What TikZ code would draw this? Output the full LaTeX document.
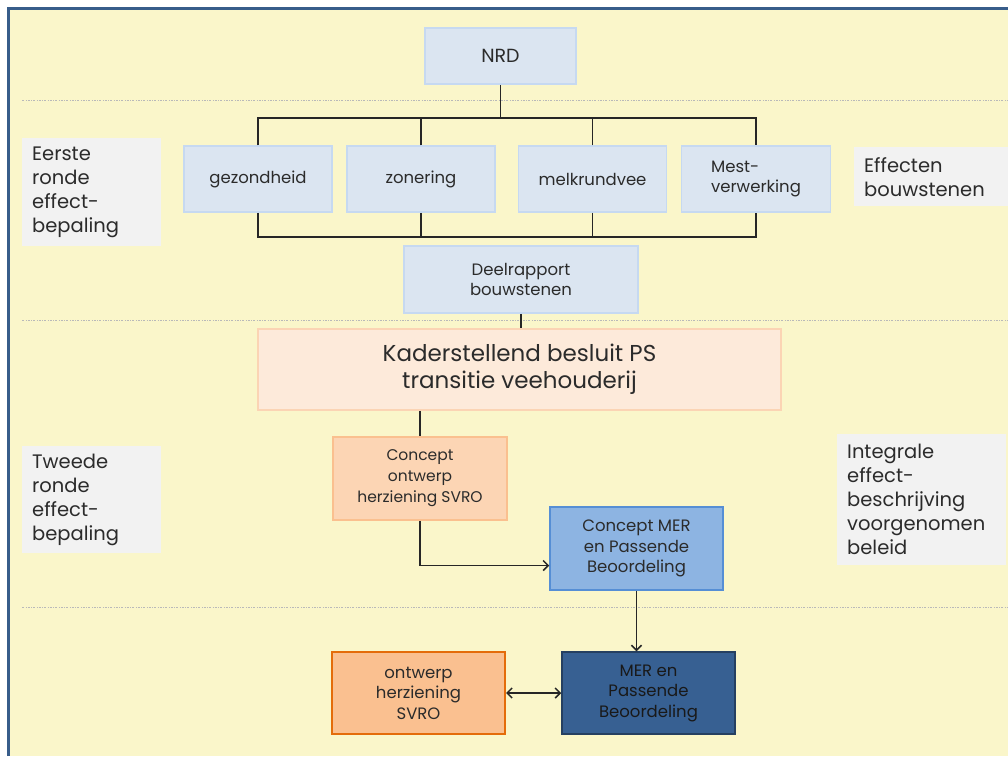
\documentclass[tikz,border=0pt]{standalone}
\usepackage{fontspec}
\setmainfont{Poppins}
\usetikzlibrary{arrows.meta,calc}
\definecolor{bgyellow}{HTML}{FAF6CA}
\definecolor{frameblue}{HTML}{385D8A}
\definecolor{lblue}{HTML}{DBE5F1}
\definecolor{lblueline}{HTML}{C6D9F1}
\definecolor{lpeach}{HTML}{FDEADA}
\definecolor{lpeachline}{HTML}{FBD4B4}
\definecolor{peach}{HTML}{FCD5B4}
\definecolor{peachline}{HTML}{FAC08F}
\definecolor{midblue}{HTML}{8DB4E2}
\definecolor{midblueline}{HTML}{558ED5}
\definecolor{orangebox}{HTML}{FAC090}
\definecolor{orangeline}{HTML}{E46C0A}
\definecolor{darkblue}{HTML}{376092}
\definecolor{darkblueline}{HTML}{254061}
\definecolor{labelgray}{HTML}{F2F2F2}
\definecolor{txt}{HTML}{2B2B2B}
\tikzset{
  box/.style={rectangle, line width=1.5pt, align=center, text=txt, inner sep=2pt,
    font=\fontsize{16.5}{20.5}\selectfont},
  bouwsteen/.style={box, fill=lblue, draw=lblueline, minimum width=148pt, minimum height=66pt},
  sidelabel/.style={rectangle, fill=labelgray, anchor=north west, align=left, text=txt,
    inner xsep=10pt, font=\fontsize{19.5}{24}\selectfont},
  sep/.style={gray!55, line width=0.8pt, dash pattern=on 2pt off 1.5pt on 0.5pt off 1.5pt},
  link/.style={line width=1.6pt, black!85},
  arr/.style={link, -{Straight Barb[length=5pt,width=10pt,line width=1.5pt]}},
  arrboth/.style={link, {Straight Barb[length=5pt,width=10pt,line width=1.5pt]}-{Straight Barb[length=5pt,width=10pt,line width=1.5pt]}}
}
\begin{document}
\begin{tikzpicture}[x=1pt,y=-1pt]
  % frame and background
  \useasboundingbox (0,0) rectangle (1008,756);
  \fill[white] (0,0) rectangle (1008,756);
  \fill[bgyellow] (9,9) rectangle (1008,756);
  \draw[frameblue, line width=3pt] (8,756) -- (8,8) -- (1008,8);
  \foreach \y in {100,320,607}
    \draw[sep] (22,\y) -- (1008,\y);

  % side labels
  \node[sidelabel, minimum width=139pt, minimum height=108pt, text width=119pt] (eerste) at (22,138)
    {Eerste\\ronde\\effect-\\bepaling};
  \node[sidelabel, minimum width=154pt, minimum height=59pt, text width=134pt] (effecten) at (854,147)
    {Effecten\\bouwstenen};
  \node[sidelabel, minimum width=139pt, minimum height=107pt, text width=119pt] (tweede) at (22,446)
    {Tweede\\ronde\\effect-\\bepaling};
  \node[sidelabel, minimum width=169pt, minimum height=131pt, text width=149pt] (integraal) at (837,434)
    {Integrale\\effect-\\beschrijving\\voorgenomen\\beleid};

  % boxes
  \node[box, fill=lblue, draw=lblueline, minimum width=151pt, minimum height=56pt,
    font=\fontsize{19}{23}\selectfont] (nrd) at (500.5,56) {NRD};
  \node[bouwsteen] (gez) at (258,179) {gezondheid};
  \node[bouwsteen] (zon) at (421,179) {zonering};
  \node[bouwsteen] (melk) at (592.5,179) {melkrundvee};
  \node[bouwsteen, minimum width=149pt, align=left] (mest) at (756,179) {Mest-\\verwerking};
  \node[box, fill=lblue, draw=lblueline, minimum width=234pt, minimum height=67pt] (deel) at (521,279.5)
    {Deelrapport\\bouwstenen};
  \node[box, fill=lpeach, draw=lpeachline, minimum width=523pt, minimum height=81pt,
    font=\fontsize{23}{27}\selectfont] (kader) at (519.5,369.5)
    {Kaderstellend besluit PS\\transitie veehouderij};
  \node[box, fill=peach, draw=peachline, minimum width=174pt, minimum height=83pt,
    font=\fontsize{15.5}{21}\selectfont] (cont) at (420,478.5)
    {Concept\\ontwerp\\herziening SVRO};
  \node[box, fill=midblue, draw=midblueline, minimum width=173pt, minimum height=83pt] (cmer) at (636.5,548.5)
    {Concept MER\\en Passende\\Beoordeling};
  \node[box, fill=orangebox, draw=orangeline, line width=2.2pt, minimum width=173pt, minimum height=82pt] (ontw) at (418.5,693)
    {ontwerp\\herziening\\SVRO};
  \node[box, fill=darkblue, draw=darkblueline, minimum width=173pt, minimum height=82pt, text=black!90] (mer) at (648.5,693)
    {MER en\\Passende\\Beoordeling};

  % connectors
  \coordinate (topbar) at (0,118);
  \coordinate (botbar) at (0,237);
  \draw[link] (nrd.south) -- (nrd.south |- topbar);
  \draw[link] (gez.north) -- (gez.north |- topbar) -- (mest.north |- topbar) -- (mest.north);
  \foreach \n in {zon,melk}
    \draw[link] (\n.north) -- (\n.north |- topbar);
  \draw[link] (gez.south) -- (gez.south |- botbar) -- (mest.south |- botbar) -- (mest.south);
  \foreach \n in {zon,melk}
    \draw[link] (\n.south) -- (\n.south |- botbar);
  \draw[link] (deel.south) -- (deel.south |- kader.north);
  \draw[link] (cont.north |- kader.south) -- (cont.north);
  \draw[arr] (cont.south) |- ([yshift=-17pt]cmer.west);
  \draw[arr] (cmer.south) -- (cmer.south |- mer.north);
  \draw[arrboth] (ontw.east) -- (mer.west);
\end{tikzpicture}
\end{document}
